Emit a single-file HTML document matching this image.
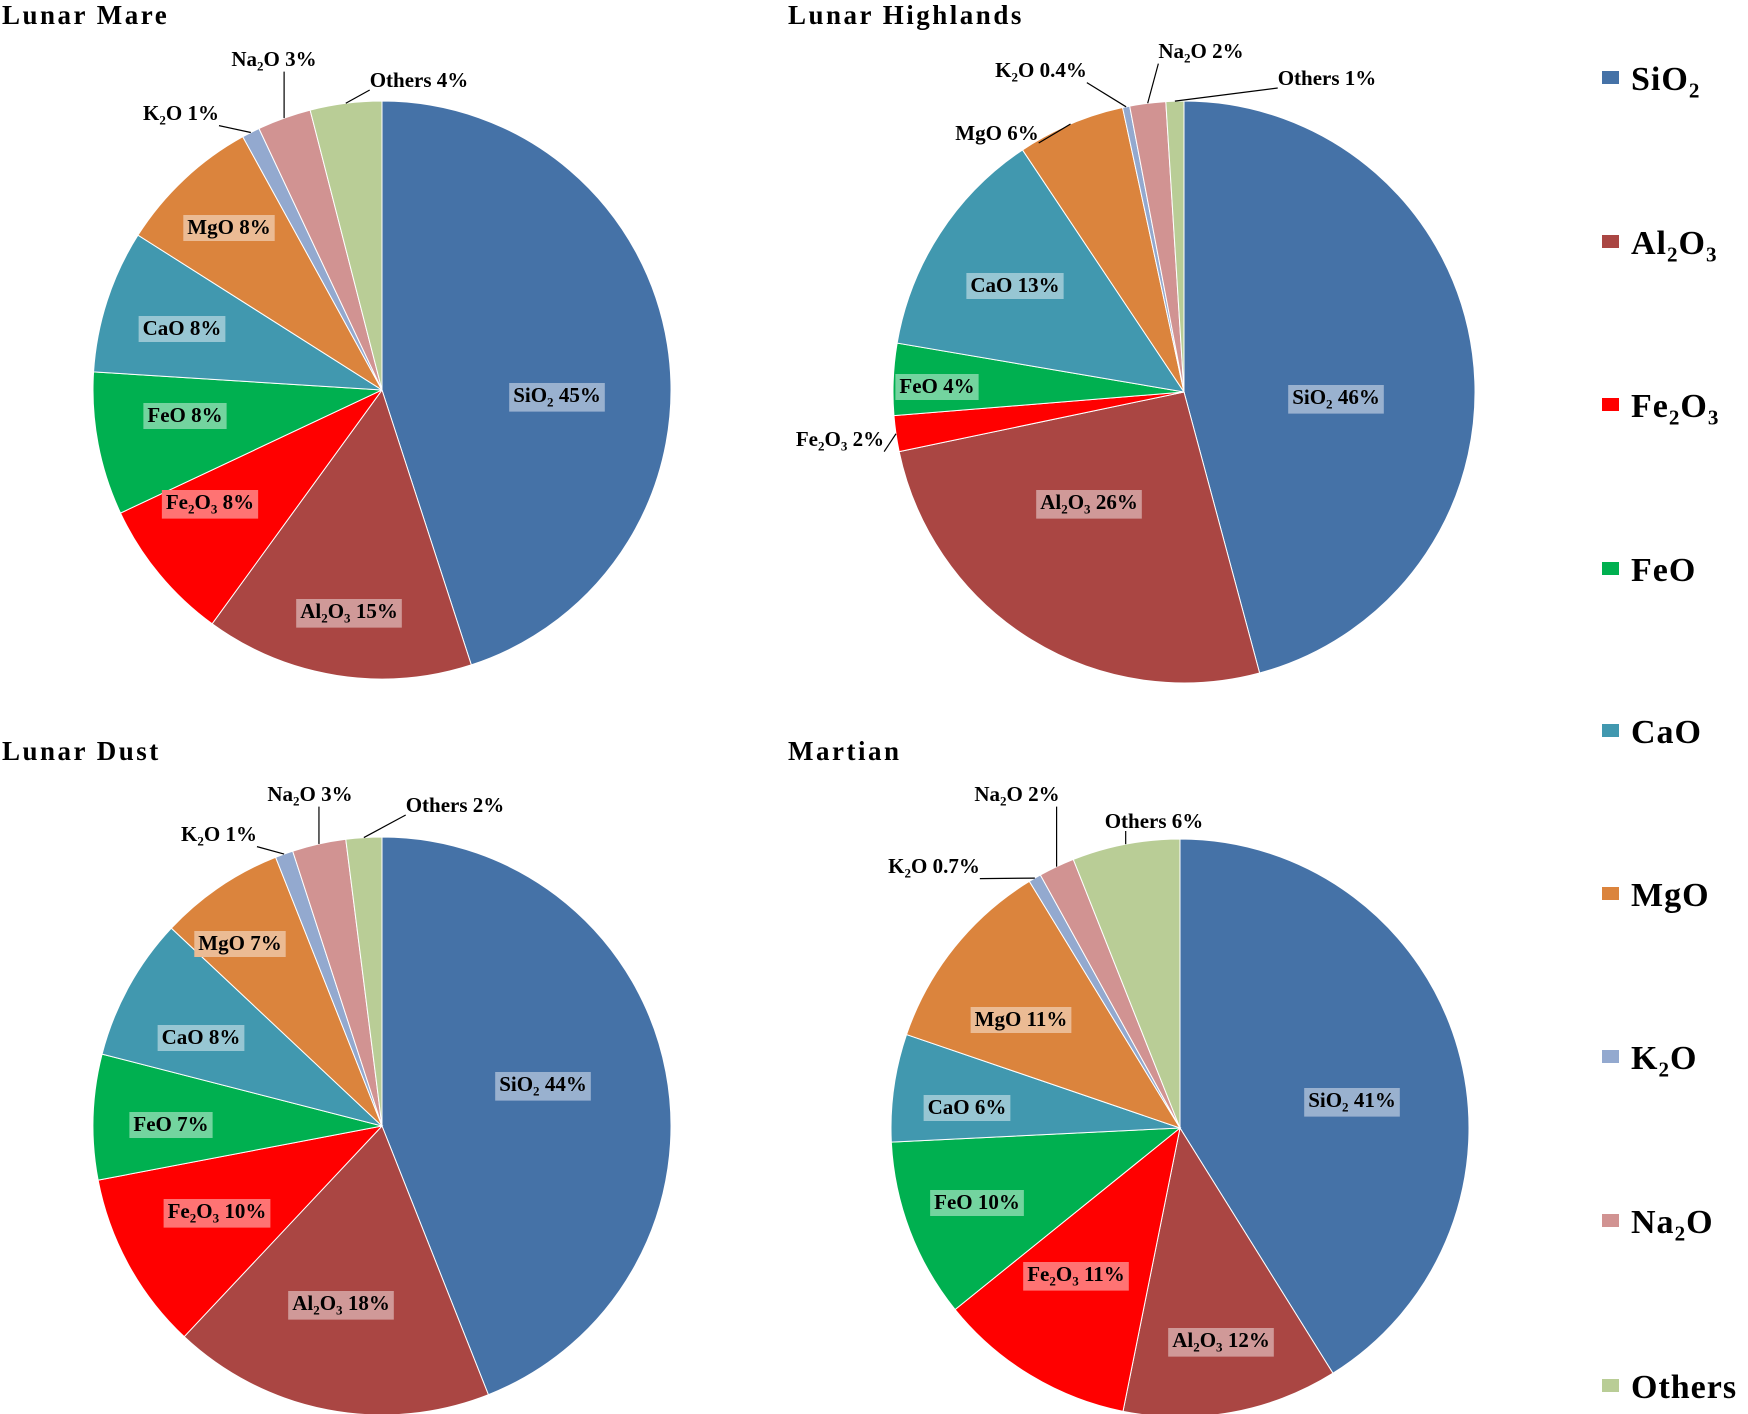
<!DOCTYPE html>
<html><head><meta charset="utf-8"><style>
html,body{margin:0;padding:0;background:#fff}
svg{display:block}
text{font-family:"Liberation Serif",serif;font-weight:bold;fill:#000}
</style></head><body>
<svg id="chart" width="1748" height="1414" viewBox="0 0 1748 1414" xmlns="http://www.w3.org/2000/svg"></svg>
<script>
const categories = ["SiO2","Al2O3","Fe2O3","FeO","CaO","MgO","K2O","Na2O","Others"];
const colors = ["#4572A7","#AA4643","#FF0000","#00B050","#4198AF","#DB843D","#93A9CF","#D19392","#B9CD96"];
const chartTitles = ["Lunar Mare","Lunar Highlands","Lunar Dust","Martian"];
const mareValues = [45,15,8,8,8,8,1,3,4];
const highlandsValues = [46,26,2,4,13,6,0.4,2,1];
const dustValues = [44,18,10,7,8,7,1,3,2];
const martianValues = [41,12,11,10,6,11,0.7,2,6];
const mareLabels = ["45%","15%","8%","8%","8%","8%","1%","3%","4%"];
const highlandsLabels = ["46%","26%","2%","4%","13%","6%","0.4%","2%","1%"];
const dustLabels = ["44%","18%","10%","7%","8%","7%","1%","3%","2%"];
const martianLabels = ["41%","12%","11%","10%","6%","11%","0.7%","2%","6%"];

const svg = document.getElementById('chart');
const NS = "http://www.w3.org/2000/svg";
function mk(tag, attrs){const e=document.createElementNS(NS,tag);for(const k in attrs)e.setAttribute(k,attrs[k]);return e;}

function addFormula(t, str, size){
  const parts = str.match(/[0-9]+|[^0-9]+/g);
  let shifted = false;
  parts.forEach(p=>{
    const ts = mk('tspan',{});
    if(/^[0-9]+$/.test(p)){ts.setAttribute('font-size',size*0.62);ts.setAttribute('dy',size*0.22);shifted=true;}
    else if(shifted){ts.setAttribute('dy',-size*0.22);shifted=false;}
    ts.textContent = p;
    t.appendChild(ts);
  });
  return shifted;
}
function lighten(hex,f){const n=parseInt(hex.slice(1),16);let r=n>>16,g=(n>>8)&255,b=n&255;
  r=Math.round(r+(255-r)*f);g=Math.round(g+(255-g)*f);b=Math.round(b+(255-b)*f);return `rgb(${r},${g},${b})`;}

const pies = [
 {values:mareValues, labels:mareLabels, cx:382, cy:390, r:289, tx:2, ty:24,
  pos:[[557,395],[349,611],[210,502],[185,415],[182,328],[229,227],[181,113],[274,59],[419,80]],
  out:[false,false,false,false,false,false,true,true,true]},
 {values:highlandsValues, labels:highlandsLabels, cx:1184, cy:392, r:291, tx:788, ty:24,
  pos:[[1336,397],[1089,502],[840,439],[937,386],[1015,285],[997,133],[1041,70],[1201,51],[1327,78]],
  out:[false,false,true,false,false,true,true,true,true]},
 {values:dustValues, labels:dustLabels, cx:382, cy:1126, r:289, tx:2, ty:760,
  pos:[[543,1084],[341,1303],[217,1211],[171,1124],[201,1037],[240,943],[219,834],[310,794],[455,805]],
  out:[false,false,false,false,false,false,true,true,true]},
 {values:martianValues, labels:martianLabels, cx:1180, cy:1128, r:289, tx:788, ty:760,
  pos:[[1352,1100],[1221,1340],[1076,1274],[977,1202],[967,1107],[1021,1019],[934,866],[1017,794],[1154,821]],
  out:[false,false,false,false,false,false,true,true,true]}
];

pies.forEach((p,pi)=>{
  const g = mk('g',{});
  
  
  svg.appendChild(g);
  const title = mk('text',{x:p.tx,y:p.ty,'font-size':27,'letter-spacing':'2.5'});
  
  
  title.textContent = chartTitles[pi];
  g.appendChild(title);
  const total = p.values.reduce((a,b)=>a+b,0);
  let acc = 0;
  const mids = [];
  p.values.forEach((v,i)=>{
    const a0 = acc/total*2*Math.PI; acc += v; const a1 = acc/total*2*Math.PI;
    mids.push((a0+a1)/2);
    const x0=p.cx+p.r*Math.sin(a0), y0=p.cy-p.r*Math.cos(a0);
    const x1=p.cx+p.r*Math.sin(a1), y1=p.cy-p.r*Math.cos(a1);
    const large = (a1-a0)>Math.PI?1:0;
    const path = mk('path',{d:`M${p.cx},${p.cy} L${x0},${y0} A${p.r},${p.r} 0 ${large} 1 ${x1},${y1} Z`,fill:colors[i],stroke:'#fff','stroke-width':1});
    
    
    g.appendChild(path);
  });
  p.values.forEach((v,i)=>{
    const [lx,ly] = p.pos[i];
    const t = mk('text',{x:lx,y:ly+7,'font-size':21,'text-anchor':'middle'});
    
    
    addFormula(t, categories[i]+' ', 21);
    const ts = mk('tspan',{}); ts.textContent = p.labels[i]; t.appendChild(ts);
    g.appendChild(t);
    const bb = t.getBBox();
    if(p.out[i]){
      const ex=p.cx+p.r*Math.sin(mids[i]), ey=p.cy-p.r*Math.cos(mids[i]);
      const cxl = Math.max(bb.x, Math.min(ex, bb.x+bb.width));
      const tx = ex < bb.x ? bb.x : (ex > bb.x+bb.width ? bb.x+bb.width : cxl);
      const ln = mk('line',{x1:ex,y1:ey,x2:tx,y2:bb.y+bb.height-2,stroke:'#000','stroke-width':1.2});
      
      
      g.insertBefore(ln,t);
    } else {
      const bg = mk('rect',{x:bb.x-4,y:bb.y,width:bb.width+8,height:bb.height+2,fill:lighten(colors[i],0.45)});
      
      
      g.insertBefore(bg,t);
    }
  });
});

const legendY = [78,242,405,569,731,894,1057,1221,1386];
const lg = mk('g',{});


svg.appendChild(lg);
categories.forEach((c,i)=>{
  const sw = mk('rect',{x:1602,y:legendY[i]-7,width:17,height:13,fill:colors[i]});
  
  
  lg.appendChild(sw);
  const t = mk('text',{x:1631,y:legendY[i]+12,'font-size':34,'letter-spacing':'1'});
  
  
  addFormula(t,c,34);
  lg.appendChild(t);
});
</script>
</body></html>
